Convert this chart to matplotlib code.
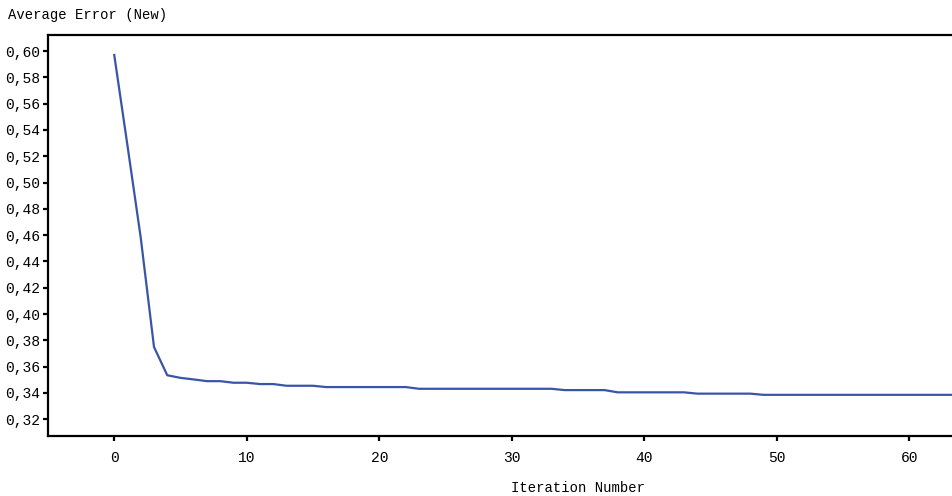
import numpy as np
import matplotlib
matplotlib.use("Agg")
import matplotlib.pyplot as plt
from matplotlib.ticker import FuncFormatter

# Average error per iteration
iterations = list(range(0, 65))
error_head = [0.597, 0.528, 0.458, 0.375, 0.3535, 0.3515, 0.3503, 0.349, 0.349,
              0.3478, 0.3478, 0.3468, 0.3468]
# plateau levels: (first iteration, last iteration, value)
plateaus = [(13, 15, 0.3455), (16, 22, 0.3445), (23, 33, 0.3432), (34, 37, 0.3422),
            (38, 43, 0.3405), (44, 48, 0.3395), (49, 64, 0.3386)]
x_ticks = [0, 10, 20, 30, 40, 50, 60]

errors = list(error_head)
for start, stop, val in plateaus:
    errors += [val] * (stop - start + 1)

plt.rcParams['font.family'] = ['Liberation Mono', 'DejaVu Sans Mono']
plt.rcParams['font.size'] = 10.5

fig = plt.figure(figsize=(9.52, 4.96), dpi=100)
# axes runs past the right edge of the figure, like the cropped original
ax = fig.add_axes([48 / 952, 60 / 496, 1060 / 952, 401 / 496])

ax.plot(iterations, errors, color='#3a55a8', linewidth=1.6)

ax.set_xlim(-5, 75)
ax.set_ylim(0.3073, 0.6122)
ax.set_xticks(x_ticks)
ax.set_yticks(np.arange(0.32, 0.601, 0.02))
ax.yaxis.set_major_formatter(FuncFormatter(lambda v, p: f"{v:.2f}".replace('.', ',')))

for side in ['left', 'bottom', 'top', 'right']:
    ax.spines[side].set_linewidth(1.6)
    ax.spines[side].set_color('black')
ax.tick_params(direction='out', length=3.5, width=1.6, pad=2, colors='black')
ax.tick_params(axis='x', pad=7)

ax.set_xlabel("Iteration Number", labelpad=12, fontsize=10)
fig.text(8 / 952, 1 - 15 / 496, "Average Error (New)", va='center', ha='left', fontsize=10)

fig.savefig("out.png", dpi=100)
